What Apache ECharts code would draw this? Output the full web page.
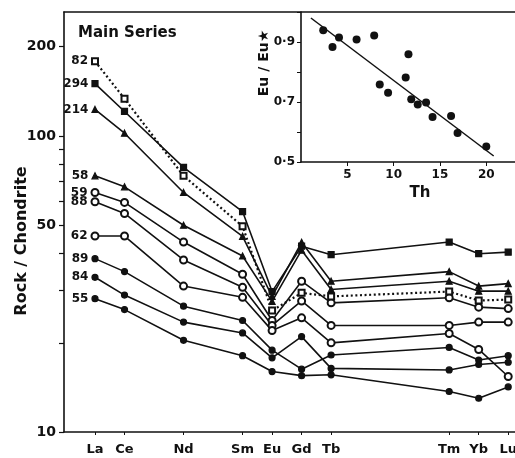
<!DOCTYPE html>
<html><head><meta charset="utf-8">
<script src="https://cdn.jsdelivr.net/npm/echarts@6/dist/echarts.min.js"></script>
<style>html,body{margin:0;padding:0;background:#fff}#c{width:515px;height:458px}</style>
</head><body><div id="c"></div>
<script>
// REE categories placed by atomic number
const elements = ['La','Ce','Nd','Sm','Eu','Gd','Tb','Tm','Yb','Lu'];
const atomicNumbers = [57,58,60,62,63,64,65,69,70,71];

// Rock / Chondrite values (La..Lu)
const s82  = [178.6, 133.5, 73.3, 49.5, 25.7, 29.5, 28.7, 29.8, 27.8, 28.0];
const s294 = [150.1, 120.9, 78.3, 55.5, 29.8, 42.4, 39.7, 43.8, 40.0, 40.5];
const s214 = [122.8, 102.1, 64.4, 45.8, 28.7, 43.7, 32.3, 34.8, 31.1, 31.7];
const s58  = [73.3, 67.3, 49.9, 39.3, 27.6, 41.1, 30.3, 32.3, 29.9, 29.9];
const s59  = [64.4, 59.6, 43.8, 34.1, 23.8, 32.3, 27.3, 28.4, 26.4, 26.1];
const s88  = [59.9, 54.7, 38.1, 30.8, 22.9, 27.7, 22.9, 22.9, 23.5, 23.5];
const s62  = [45.9, 45.9, 31.1, 28.5, 22.0, 24.3, 20.0, 21.5, 19.0, 15.4];
const s89  = [38.5, 34.8, 26.6, 23.8, 18.9, 16.3, 18.2, 19.3, 17.5, 18.1];
const s84  = [33.3, 29.0, 23.5, 21.6, 17.8, 21.0, 16.4, 16.2, 16.9, 17.2];
const s55  = [28.2, 25.9, 20.4, 18.1, 16.0, 15.5, 15.6, 13.7, 13.0, 14.2];

const yTickValues = [10,20,30,40,50,60,70,80,90,100,200];
const yLabelValues = [10,50,100,200];

// Inset: Eu/Eu* vs Th
const thValues = [2.4, 3.4, 4.1, 6.0, 7.9, 8.5, 9.4, 11.3, 11.6, 11.9, 12.6, 13.5, 14.2, 16.2, 16.9, 20.0];
const euRatio  = [0.939, 0.883, 0.915, 0.908, 0.922, 0.758, 0.731, 0.782, 0.859, 0.709, 0.692, 0.698, 0.650, 0.653, 0.597, 0.552];
const fitTh = [1.07, 20.8];
const fitEu = [0.98, 0.52];
const insetXTicks = [5,10,15,20];
const insetYTicks = [0.5,0.6,0.7,0.8,0.9,1.0];
const insetYLabels = [0.5,0.7,0.9];

const FONT = 'DejaVu Sans';
const black = '#111';

const seriesDefs = [
  {name:'82', vals:s82, symbol:'emptyRect', dotted:true, size:6},
  {name:'294', vals:s294, symbol:'rect', size:6},
  {name:'214', vals:s214, symbol:'triangle', size:6},
  {name:'58', vals:s58, symbol:'triangle', size:6},
  {name:'59', vals:s59, symbol:'emptyCircle', size:7},
  {name:'88', vals:s88, symbol:'emptyCircle', size:7},
  {name:'62', vals:s62, symbol:'emptyCircle', size:7},
  {name:'89', vals:s89, symbol:'circle', size:6},
  {name:'84', vals:s84, symbol:'circle', size:6},
  {name:'55', vals:s55, symbol:'circle', size:6}
];

const mainSeries = seriesDefs.map(d => ({
  type:'line', name:d.name, xAxisIndex:0, yAxisIndex:0,
  symbol:d.symbol, symbolSize:d.size,
  lineStyle:{color:black, width:d.dotted?2.2:1.6, type:d.dotted?[2,2.6]:'solid'},
  itemStyle:{color:black, borderColor:black, borderWidth:1.2},
  z: d.dotted ? 5 : 3,
  data: d.vals.map((v,i) => i===0 ? {
    value:[atomicNumbers[i], v],
    label:{show:true, position:'left', distance:3, formatter:d.name,
      fontFamily:FONT, fontWeight:'bold', fontSize:12, color:black}
  } : [atomicNumbers[i], v])
}));

const xMin = 55.95, xMax = 71.23;
const chart = echarts.init(document.getElementById('c'), null, {renderer:'canvas'});
chart.setOption({
  animation:false,
  backgroundColor:'#fff',
  title:{text:'Main Series', left:73, top:21,
    textStyle:{fontFamily:FONT, fontWeight:'bold', fontSize:15, color:black}},
  grid:[
    {left:64, top:12, width:451, height:420, outerBoundsMode:'none', containLabel:false},
    {left:301, top:12, width:214, height:150, outerBoundsMode:'none', containLabel:false}
  ],
  xAxis:[
    {type:'value', gridIndex:0, min:xMin, max:xMax,
      axisLine:{show:true, onZero:false, lineStyle:{color:black, width:1.6}},
      axisTick:{show:true, customValues:atomicNumbers, length:3, lineStyle:{color:black}},
      axisLabel:{show:true, customValues:atomicNumbers, margin:11,
        formatter:v => elements[atomicNumbers.indexOf(Math.round(v))] || '',
        fontFamily:FONT, fontWeight:'bold', fontSize:13, color:black},
      splitLine:{show:false}},
    {type:'value', gridIndex:0, position:'top', min:xMin, max:xMax,
      axisLine:{show:true, onZero:false, lineStyle:{color:black, width:1.6}},
      axisTick:{show:false}, axisLabel:{show:false}, splitLine:{show:false}},
    {type:'value', gridIndex:1, min:0, max:23.1,
      axisLine:{show:true, onZero:false, lineStyle:{color:black, width:1.6}},
      axisTick:{show:true, customValues:insetXTicks, length:4, lineStyle:{color:black}},
      axisLabel:{show:true, customValues:insetXTicks, margin:7,
        fontFamily:FONT, fontWeight:'bold', fontSize:12, color:black},
      splitLine:{show:false}}
  ],
  yAxis:[
    {type:'log', gridIndex:0, position:'left', min:10, max:262,
      axisLine:{show:true, onZero:false, lineStyle:{color:black, width:1.6}},
      axisTick:{show:false}, axisLabel:{show:false}, splitLine:{show:false}},
    {type:'value', gridIndex:0, position:'left', offset:0, min:1, max:Math.log10(262),
      axisLine:{show:false, onZero:false},
      axisTick:{show:true, customValues:yTickValues.map(Math.log10), length:5, lineStyle:{color:black, width:1.2}},
      axisLabel:{show:true, customValues:yLabelValues.map(Math.log10), margin:8,
        formatter:v => String(Math.round(Math.pow(10, v))),
        fontFamily:FONT, fontWeight:'bold', fontSize:14, color:black},
      splitLine:{show:false}},
    {type:'value', gridIndex:1, position:'left', min:0.5, max:1.0,
      axisLine:{show:true, onZero:false, lineStyle:{color:black, width:1.6}},
      axisTick:{show:true, customValues:insetYTicks, length:4, lineStyle:{color:black}},
      axisLabel:{show:true, customValues:insetYLabels, margin:6,
        formatter:v => v.toFixed(1).replace('.', '·'),
        fontFamily:FONT, fontWeight:'bold', fontSize:12, color:black},
      splitLine:{show:false}}
  ],
  graphic:[
    {type:'text', x:22, y:241, rotation:Math.PI/2,
      style:{text:'Rock / Chondrite', fontFamily:FONT, fontWeight:'bold', fontSize:16,
        fill:black, align:'center', verticalAlign:'middle'}},
    {type:'text', x:264, y:63, rotation:Math.PI/2,
      style:{text:'Eu / Eu★', fontFamily:FONT, fontWeight:'bold', fontSize:14,
        fill:black, align:'center', verticalAlign:'middle'}},
    {type:'text', x:420, y:193,
      style:{text:'Th', fontFamily:FONT, fontWeight:'bold', fontSize:15,
        fill:black, align:'center', verticalAlign:'middle'}}
  ],
  series: mainSeries.concat([
    {type:'scatter', xAxisIndex:2, yAxisIndex:2, symbol:'circle', symbolSize:8,
      itemStyle:{color:black, opacity:1},
      data: thValues.map((t,i) => [t, euRatio[i]])},
    {type:'line', xAxisIndex:2, yAxisIndex:2, symbol:'none',
      lineStyle:{color:black, width:1.5},
      data: fitTh.map((t,i) => [t, fitEu[i]])}
  ])
});
</script>
</body></html>
